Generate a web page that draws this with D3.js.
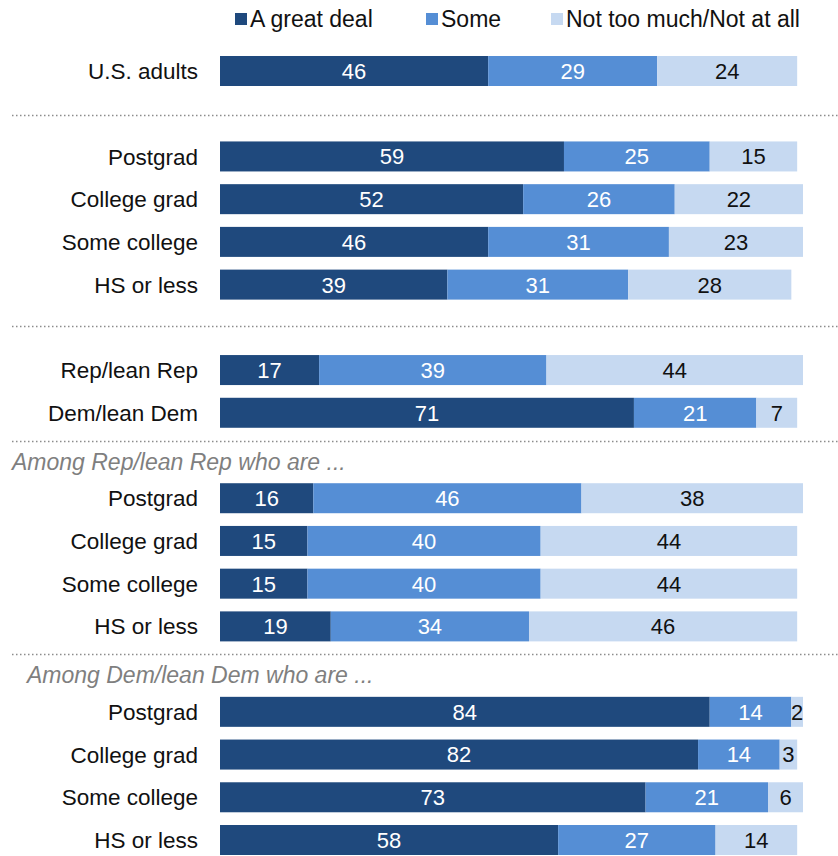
<!DOCTYPE html>
<html>
<head>
<meta charset="utf-8">
<script src="https://cdn.jsdelivr.net/npm/d3@7/dist/d3.min.js"></script>
<style>
  html, body { margin: 0; padding: 0; background: #fff; }
  svg { display: block; font-family: "Liberation Sans", Arial, sans-serif; }
</style>
</head>
<body>
<svg id="chart" width="838" height="856"></svg>
<script>
// Row labels, in display order
const rowLabels = [
  "U.S. adults",
  "Postgrad", "College grad", "Some college", "HS or less",
  "Rep/lean Rep", "Dem/lean Dem",
  "Postgrad", "College grad", "Some college", "HS or less",
  "Postgrad", "College grad", "Some college", "HS or less"
];
// Slot index of each row (gaps leave room for separators and headers)
const rowSlots = [0, 2, 3, 4, 5, 7, 8, 10, 11, 12, 13, 15, 16, 17, 18];

// Series values (%)
const greatDeal = [46, 59, 52, 46, 39, 17, 71, 16, 15, 15, 19, 84, 82, 73, 58];
const some      = [29, 25, 26, 31, 31, 39, 21, 46, 40, 40, 34, 14, 14, 21, 27];
const notMuch   = [24, 15, 22, 23, 28, 44, 7, 38, 44, 44, 46, 2, 3, 6, 14];

const seriesNames = ["A great deal", "Some", "Not too much/Not at all"];
const seriesColors = ["#1f497d", "#558ed5", "#c6d9f1"];
const labelColors = ["#ffffff", "#ffffff", "#111111"];

// Section headers, placed relative to slots
const headers = [
  { text: "Among Rep/lean Rep who are ...", slot: 9.15, x: 12 },
  { text: "Among Dem/lean Dem who are ...", slot: 14.12, x: 27 }
];
// Dotted separators, placed by slot
const separatorSlots = [1.03, 5.97, 8.65, 13.64];

const svg = d3.select("#chart");

const x = d3.scaleLinear().domain([0, 100]).range([220, 803]);
const y = d3.scaleLinear().domain([0, 18]).range([71, 840]);
const barH = 30;

const rows = rowLabels.map((label, i) => ({
  label, slot: rowSlots[i],
  values: [greatDeal[i], some[i], notMuch[i]]
}));

const stacked = d3.stack()
  .keys([0, 1, 2])
  .value((d, k) => d.values[k])(rows);

// Separators
svg.append("g").selectAll("line")
  .data(separatorSlots)
  .join("line")
  .attr("x1", 12).attr("x2", 838)
  .attr("y1", d => Math.round(y(d)) + 0.5)
  .attr("y2", d => Math.round(y(d)) + 0.5)
  .attr("stroke", "#8c8c8c")
  .attr("stroke-width", 1.5)
  .attr("stroke-dasharray", "1.5,2.5");

// Section headers
svg.append("g").selectAll("text")
  .data(headers)
  .join("text")
  .attr("x", d => d.x)
  .attr("y", d => y(d.slot))
  .attr("dy", "0.36em")
  .attr("fill", "#7f7f7f")
  .attr("font-style", "italic")
  .attr("font-size", 23)
  .text(d => d.text);

// Bars
const layers = svg.append("g").selectAll("g")
  .data(stacked)
  .join("g")
  .attr("fill", (d, i) => seriesColors[i]);

layers.selectAll("rect")
  .data(d => d)
  .join("rect")
  .attr("x", d => x(d[0]))
  .attr("width", d => x(d[1]) - x(d[0]))
  .attr("y", d => y(d.data.slot) - barH / 2)
  .attr("height", barH);

// Segment value labels
layers.each(function (layer, li) {
  d3.select(this).selectAll("text")
    .data(layer)
    .join("text")
    .attr("x", d => (x(d[0]) + x(d[1])) / 2)
    .attr("y", d => y(d.data.slot))
    .attr("dy", "0.36em")
    .attr("text-anchor", "middle")
    .attr("font-size", 22)
    .attr("fill", labelColors[li])
    .text(d => d.data.values[li]);
});

// Row labels
svg.append("g").selectAll("text")
  .data(rows)
  .join("text")
  .attr("x", 198)
  .attr("y", d => y(d.slot))
  .attr("dy", "0.36em")
  .attr("text-anchor", "end")
  .attr("font-size", 22.5)
  .attr("fill", "#111")
  .text(d => d.label);

// Legend
const legendX = [235, 426, 551];
const legend = svg.append("g").selectAll("g")
  .data(seriesNames)
  .join("g")
  .attr("transform", (d, i) => `translate(${legendX[i]},0)`);
legend.append("rect")
  .attr("x", 0).attr("y", 13)
  .attr("width", 12).attr("height", 12)
  .attr("fill", (d, i) => seriesColors[i]);
legend.append("text")
  .attr("x", 15).attr("y", 19)
  .attr("dy", "0.36em")
  .attr("font-size", 23)
  .attr("fill", "#111")
  .text(d => d);
</script>
</body>
</html>
